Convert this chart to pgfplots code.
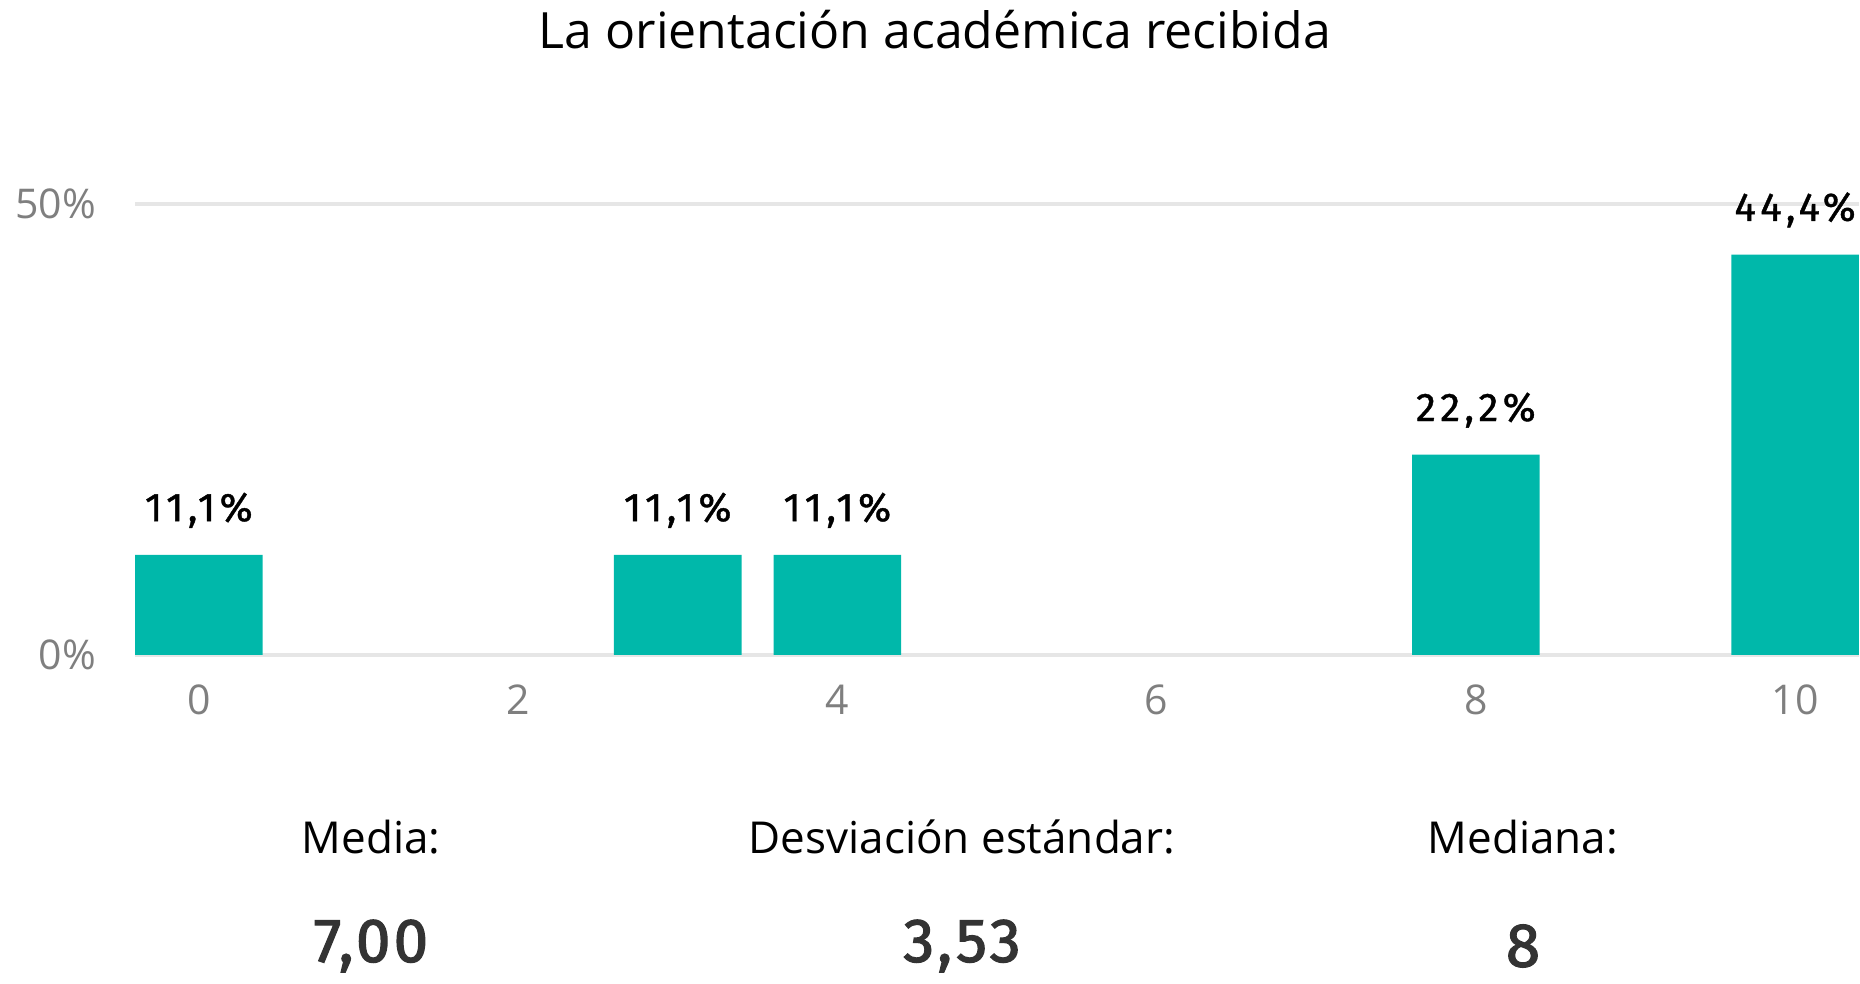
\documentclass[border=0pt]{standalone}
\usepackage{fontspec}
\setmainfont{Open Sans}
\newfontfamily\din[LetterSpace=11, FakeBold=1]{Fira Sans}
\newfontfamily\dinv[LetterSpace=5, FakeBold=2]{Fira Sans}
\usepackage{pgfplots}
\pgfplotsset{compat=1.18}
\definecolor{barc}{HTML}{00B8AA}
\definecolor{gridc}{HTML}{E6E6E6}
\definecolor{tickc}{HTML}{7F7F7F}
\definecolor{valc}{HTML}{333333}
\begin{document}
\begin{tikzpicture}
\begin{axis}[
  at={(67.5pt,164.5pt)}, anchor=south west,
  scale only axis, width=862pt, height=225.5pt,
  xmin=-0.4, xmax=10.4, ymin=0, ymax=50,
  axis line style={draw=none},
  clip=false,
  xtick={0,2,4,6,8,10}, xticklabels={0,2,4,6,8,10},
  ytick={0,50}, yticklabels={0\%,50\%},
  ymajorgrids, grid style={gridc, line width=2pt},
  major tick length=0pt,
  tick label style={font=\fontsize{20.5}{24}\selectfont, text=tickc},
  xticklabel style={yshift=-11.5pt},
  yticklabel style={xshift=-16pt},
  /pgf/number format/assume math mode=true,
  ybar, bar width=63.8pt, bar shift=0pt,
  nodes near coords={\pgfmathprintnumber[fixed, fixed zerofill, precision=1, use comma]{\pgfplotspointmeta}\%},
  nodes near coords style={font=\din\fontsize{20}{24}\selectfont, text=black, anchor=south, yshift=10pt},
]
\addplot[fill=barc, draw=none] coordinates {(0,11.1) (3,11.1) (4,11.1) (8,22.2) (10,44.4)};
\end{axis}
\node[font=\fontsize{25}{30}\selectfont] at (467.5pt,477pt) {La orientación académica recibida};
\node[font=\fontsize{22}{26}\selectfont] at (185.5pt,73.5pt) {Media:};
\node[font=\fontsize{22}{26}\selectfont] at (481pt,73.5pt) {Desviación estándar:};
\node[font=\fontsize{22}{26}\selectfont] at (761.5pt,73.5pt) {Mediana:};
\node[font=\dinv\fontsize{31}{36}\selectfont, text=valc] at (185.5pt,19pt) {7,00};
\node[font=\dinv\fontsize{31}{36}\selectfont, text=valc] at (481pt,19pt) {3,53};
\node[font=\dinv\fontsize{31}{36}\selectfont, text=valc] at (761.5pt,19pt) {8};
\pgfresetboundingbox
\useasboundingbox (0,0) rectangle (930pt,492pt);
\end{tikzpicture}
\end{document}
